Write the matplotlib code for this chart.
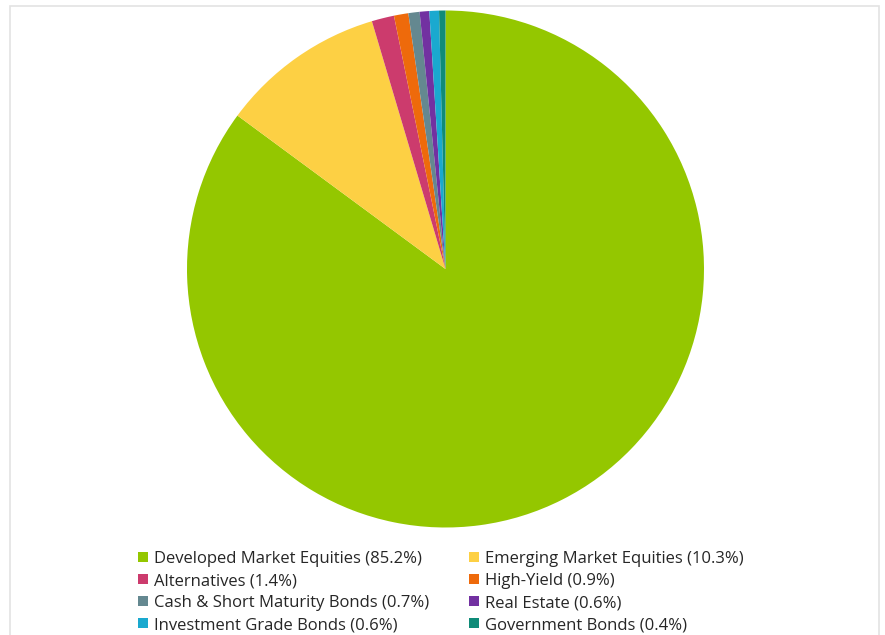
import matplotlib.pyplot as plt
from matplotlib.patches import Rectangle, Patch

labels = ["Developed Market Equities", "Emerging Market Equities", "Alternatives",
          "High-Yield", "Cash & Short Maturity Bonds", "Real Estate",
          "Investment Grade Bonds", "Government Bonds"]
values = [85.2, 10.3, 1.4, 0.9, 0.7, 0.6, 0.6, 0.4]
colors = ["#94C700", "#FDD044", "#CC3B6D", "#EE6A0B", "#648890", "#7231A1",
          "#1AA9CF", "#0F8B78"]

plt.rcParams['font.family'] = ['Open Sans', 'DejaVu Sans']

W, H = 885, 635
fig = plt.figure(figsize=(W / 100, H / 100), dpi=100)

# light frame around the chart
fig.patches.append(Rectangle((10 / W, -0.01), 869 / W, (H - 6) / H + 0.01,
                             transform=fig.transFigure, fill=False,
                             edgecolor="#e3e3e3", linewidth=1.2))

cx, cy, r = 445.5, 269, 258.5
ax = fig.add_axes([(cx - r) / W, (H - cy - r) / H, 2 * r / W, 2 * r / H])
ax.pie(values, colors=colors, startangle=90, counterclock=False,
       wedgeprops=dict(linewidth=0))
ax.set_xlim(-1, 1)
ax.set_ylim(-1, 1)
ax.set_aspect("equal")
ax.axis("off")

# legend: two columns, placed separately
for col, x0 in enumerate([123, 454]):
    idx = list(range(col, len(labels), 2))
    handles = [Patch(facecolor=colors[i], edgecolor="none") for i in idx]
    texts = [f"{labels[i]} ({values[i]:.1f}%)" for i in idx]
    fig.legend(handles, texts, loc="upper left",
               bbox_to_anchor=(x0 / W, (H - 536) / H), frameon=False,
               fontsize=12, handlelength=0.6, handleheight=0.6,
               handletextpad=0.35, labelspacing=0.36,
               labelcolor="#262626")

fig.savefig("out.png", dpi=100)
